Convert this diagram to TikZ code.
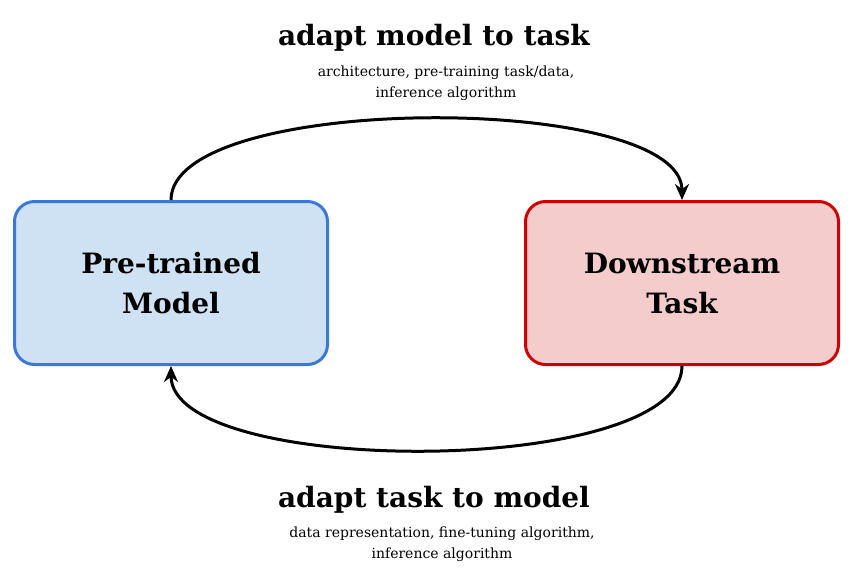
\documentclass[tikz,border=0pt]{standalone}
\usepackage{fontspec}
\setmainfont{DejaVu Serif}
\usetikzlibrary{arrows.meta}
\definecolor{bfill}{RGB}{207,226,243}
\definecolor{bdraw}{RGB}{59,120,216}
\definecolor{rfill}{RGB}{244,204,204}
\definecolor{rdraw}{RGB}{204,0,0}
\tikzset{
 box/.style={rounded corners=20pt,line width=3pt,minimum width=313pt,minimum height=163pt,align=center,font=\fontsize{28}{40}\selectfont\bfseries},
 big/.style={font=\fontsize{28}{32}\selectfont\bfseries},
 small/.style={font=\fontsize{14}{21}\selectfont,align=center},
 conn/.style={line width=3pt,-{Stealth[length=16pt,width=14pt]}}
}
\begin{document}
\begin{tikzpicture}[x=1pt,y=-1pt]
\useasboundingbox (0,0) rectangle (858,579);
\node[box,fill=bfill,draw=bdraw] (pt) at (171,283) {Pre-trained\\Model};
\node[box,fill=rfill,draw=rdraw] (ds) at (682,283) {Downstream\\Task};
\node[big] (t1) at (434,38) {adapt model to task};
\node[small] (s1) at (446,83) {architecture, pre-training task/data,\\inference algorithm};
\node[big] (t2) at (434,500) {adapt task to model};
\node[small] (s2) at (442,544) {data representation, fine-tuning algorithm,\\inference algorithm};
\draw[conn] (pt.north) .. controls (171,92) and (682,92) .. (ds.north);
\draw[conn] (ds.south) .. controls (682,478) and (171,478) .. (pt.south);
\end{tikzpicture}
\end{document}
